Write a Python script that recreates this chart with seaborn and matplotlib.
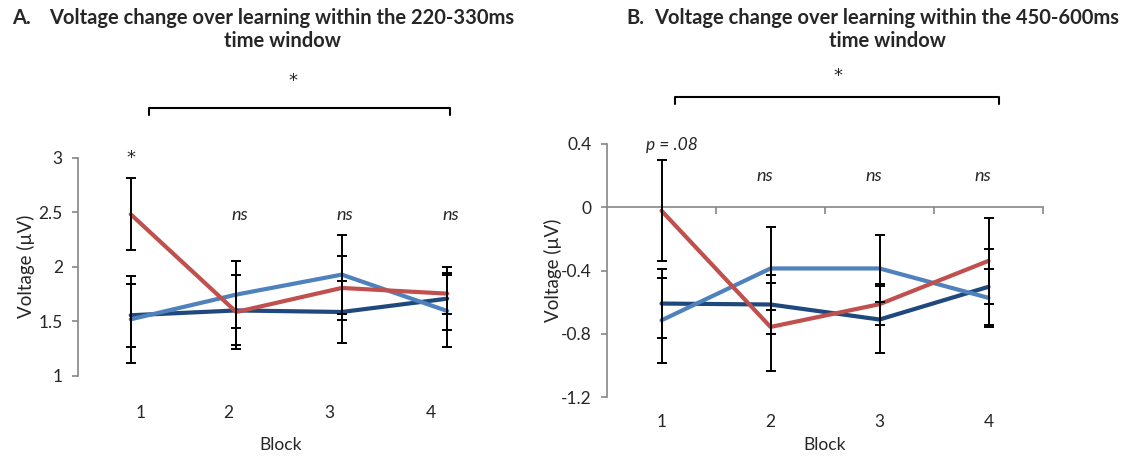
import matplotlib
matplotlib.use("Agg")
import matplotlib.pyplot as plt
import seaborn as sns
import pandas as pd

# ---------------- data ----------------
blocks = [1, 2, 3, 4]
block_labels = ["1", "2", "3", "4"]
series_names = ["Series 1", "Series 2", "Series 3"]  # dark blue, light blue, red

# Panel A: 220-330 ms
a_dark = [1.556, 1.600, 1.586, 1.708]
a_dark_err = [0.29, 0.32, 0.28, 0.29]
a_light = [1.519, 1.745, 1.928, 1.595]
a_light_err = [0.40, 0.31, 0.36, 0.33]
a_red = [2.480, 1.586, 1.806, 1.754]
a_red_err = [0.33, 0.34, 0.29, 0.19]

# Panel B: 450-600 ms
b_dark = [-0.609, -0.615, -0.710, -0.503]
b_dark_err = [0.22, 0.185, 0.21, 0.24]
b_light = [-0.715, -0.387, -0.387, -0.573]
b_light_err = [0.27, 0.26, 0.21, 0.185]
b_red = [-0.022, -0.757, -0.613, -0.339]
b_red_err = [0.32, 0.28, 0.13, 0.27]

a_yticks = [1, 1.5, 2, 2.5, 3]
a_yticklabels = ["1", "1.5", "2", "2.5", "3"]
b_yticks = [-1.2, -0.8, -0.4, 0, 0.4]
b_yticklabels = ["-1.2", "-0.8", "-0.4", "0", "0.4"]

a_sig = ["*", "ns", "ns", "ns"]
b_sig = ["p = .08", "ns", "ns", "ns"]

colors = ["#1F497D", "#4F81BD", "#C0504D"]

# ---------------- style ----------------
sns.set_style("white")
plt.rcParams["font.family"] = ["Lato", "DejaVu Sans"]
GRAY = "#868686"
STAR_FONT = ["DejaVu Sans"]

fig = plt.figure(figsize=(11.3, 4.57), dpi=100)
W, H = 1130, 457
axA = fig.add_axes([78 / W, 1 - 376 / H, 422 / W, 218.5 / H])
axB = fig.add_axes([607 / W, 1 - 397 / H, 436 / W, 253 / H])


def long_df(vals):
    rows = []
    for name, v in zip(series_names, vals):
        for b, y in zip(blocks, v):
            rows.append({"Block": b, "Voltage": y, "Series": name})
    return pd.DataFrame(rows)


def draw(ax, vals, errs):
    df = long_df(vals)
    sns.lineplot(data=df, x="Block", y="Voltage", hue="Series",
                 hue_order=series_names, palette=colors, linewidth=3,
                 legend=False, ax=ax, zorder=2)
    for v, e in zip(vals, errs):
        ax.errorbar(blocks, v, yerr=e, fmt="none", ecolor="black",
                    elinewidth=1.4, capsize=3.6, capthick=1.4, zorder=3)


draw(axA, [a_dark, a_light, a_red], [a_dark_err, a_light_err, a_red_err])
draw(axB, [b_dark, b_light, b_red], [b_dark_err, b_light_err, b_red_err])

for ax in (axA, axB):
    ax.set_xlim(0.5, 4.5)
    for s in ("top", "right", "bottom"):
        ax.spines[s].set_visible(False)
    ax.spines["left"].set_color(GRAY)
    ax.spines["left"].set_linewidth(1.2)
    ax.tick_params(axis="y", direction="out", length=4, width=1.2,
                   color=GRAY, labelsize=12.5, pad=7, left=True)
    ax.set_ylabel("Voltage (µV)", fontsize=13.5)
    ax.set_xlabel("Block", fontsize=12.5)
    ax.patch.set_alpha(0)

# Panel A axes (category labels sit slightly off the data columns, as in the original)
axA.set_ylim(1, 3)
axA.set_yticks(a_yticks)
axA.set_yticklabels(a_yticklabels)
axA.set_xticks([1.09, 1.92, 2.88, 3.84])
axA.set_xticklabels(block_labels)
axA.tick_params(axis="x", length=0, labelsize=12.5, pad=21)
axA.yaxis.set_label_coords(-0.102, 0.5)
axA.xaxis.set_label_coords(0.479, -0.279)

# Panel B axes
axB.set_ylim(-1.2, 0.4)
axB.set_yticks(b_yticks)
axB.set_yticklabels(b_yticklabels)
axB.set_xticks(blocks)
axB.set_xticklabels(block_labels)
axB.tick_params(axis="x", length=0, labelsize=12.5, pad=12)
axB.yaxis.set_label_coords(-0.103, 0.5)
axB.xaxis.set_label_coords(0.5, -0.158)
# zero line with category-boundary ticks
ylo, yhi = axB.get_ylim()
sec = axB.secondary_xaxis((0 - ylo) / (yhi - ylo))
sec.set_xticks([1.5, 2.5, 3.5, 4.5])
sec.set_xticklabels([])
sec.xaxis.set_ticks_position("bottom")
sec.tick_params(axis="x", direction="out", length=5, width=1.2, color=GRAY)
for s in sec.spines.values():
    s.set_color(GRAY)
    s.set_linewidth(1.2)

# significance labels per block
axA.text(blocks[0], 3.0, a_sig[0], ha="center", va="center", fontsize=13,
         family=STAR_FONT, clip_on=False)
for b, s in zip(blocks[1:], a_sig[1:]):
    axA.text(b + 0.03, 2.47, s, ha="center", va="center", fontsize=13,
             style="italic", clip_on=False)
axB.text(blocks[0] + 0.1, 0.394, b_sig[0], ha="center", va="center",
         fontsize=12.5, style="italic", clip_on=False)
for b, s in zip(blocks[1:], b_sig[1:]):
    axB.text(b - 0.05, 0.195, s, ha="center", va="center", fontsize=13,
             style="italic", clip_on=False)

# brackets
axA.plot([1.17, 1.17, 4.03, 4.03], [3.389, 3.456, 3.456, 3.389],
         color="black", lw=1.5, clip_on=False)
axA.text(2.54, 3.70, "*", ha="center", va="center", fontsize=13,
         family=STAR_FONT, clip_on=False)
axB.plot([1.12, 1.12, 4.1, 4.1], [0.653, 0.697, 0.697, 0.653],
         color="black", lw=1.5, clip_on=False)
axB.text(2.62, 0.83, "*", ha="center", va="center", fontsize=13,
         family=STAR_FONT, clip_on=False)

# titles
fig.text(12 / W, 1 - 18 / H, "A.", ha="left", va="center", fontsize=14.5,
         fontweight="bold")
fig.text(282 / W, 1 - 29.5 / H,
         "Voltage change over learning within the 220-330ms\ntime window",
         ha="center", va="center", fontsize=14.5, fontweight="bold",
         linespacing=1.15)
fig.text(626 / W, 1 - 18 / H, "B.", ha="left", va="center", fontsize=14.5,
         fontweight="bold")
fig.text(887 / W, 1 - 29.5 / H,
         "Voltage change over learning within the 450-600ms\ntime window",
         ha="center", va="center", fontsize=14.5, fontweight="bold",
         linespacing=1.15)

fig.savefig("out.png", dpi=100)
